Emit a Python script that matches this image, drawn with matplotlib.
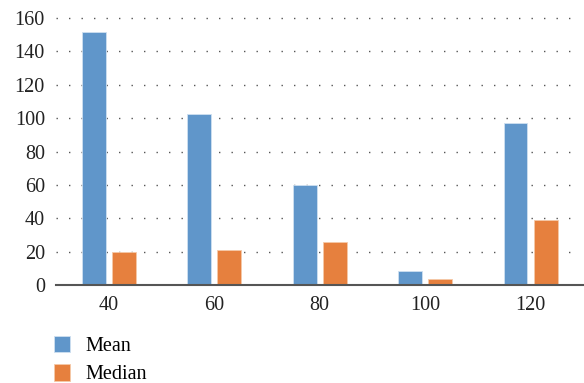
import matplotlib.pyplot as plt
import numpy as np

plt.rcParams['font.family'] = ['Liberation Serif', 'DejaVu Serif']

categories = ['40', '60', '80', '100', '120']
mean_vals = [151.5, 102.4, 59.9, 8.4, 97.3]
median_vals = [19.8, 21.0, 25.6, 3.4, 39.2]

blue = '#6096ca'
orange = '#e6803e'

fig = plt.figure(figsize=(5.84, 3.83), dpi=100)
ax = fig.add_axes([0.0959, 0.2559, 0.903, 0.697])

x = np.arange(len(categories))
w = 0.225
gap = 0.06
b1 = ax.bar(x - (w + gap) / 2, mean_vals, w, color=blue, edgecolor='#cfe0f0', linewidth=0.6, label='Mean', zorder=2)
b2 = ax.bar(x + (w + gap) / 2, median_vals, w, color=orange, edgecolor='#f5c9a8', linewidth=0.6, label='Median', zorder=2)

ax.set_xlim(-0.5, 4.5)
ax.set_ylim(0, 160)
ax.set_yticks(np.arange(0, 161, 20))
ax.set_xticks(x)
ax.set_xticklabels(categories)

# dotted horizontal gridlines (not at zero)
for yv in range(20, 161, 20):
    ax.plot([-0.5, 4.4], [yv, yv], color='#555555', lw=1, linestyle=(0, (1, 8)),
            zorder=1, clip_on=False)

for s in ['left', 'right', 'top']:
    ax.spines[s].set_visible(False)
ax.spines['bottom'].set_color('#555555')
ax.spines['bottom'].set_linewidth(1.5)
ax.spines['bottom'].set_zorder(3)
ax.tick_params(length=0, labelsize=14.5, colors='#222222')
ax.tick_params(axis='x', pad=8)
ax.tick_params(axis='y', pad=8)

fig.legend(handles=[b1, b2], labels=['Mean', 'Median'], loc='upper left',
           bbox_to_anchor=(0.078, 0.145), frameon=False, fontsize=14.5,
           handlelength=0.8, handleheight=0.9, handletextpad=0.8,
           labelspacing=0.4, borderaxespad=0)

fig.savefig('out.png', dpi=100)
